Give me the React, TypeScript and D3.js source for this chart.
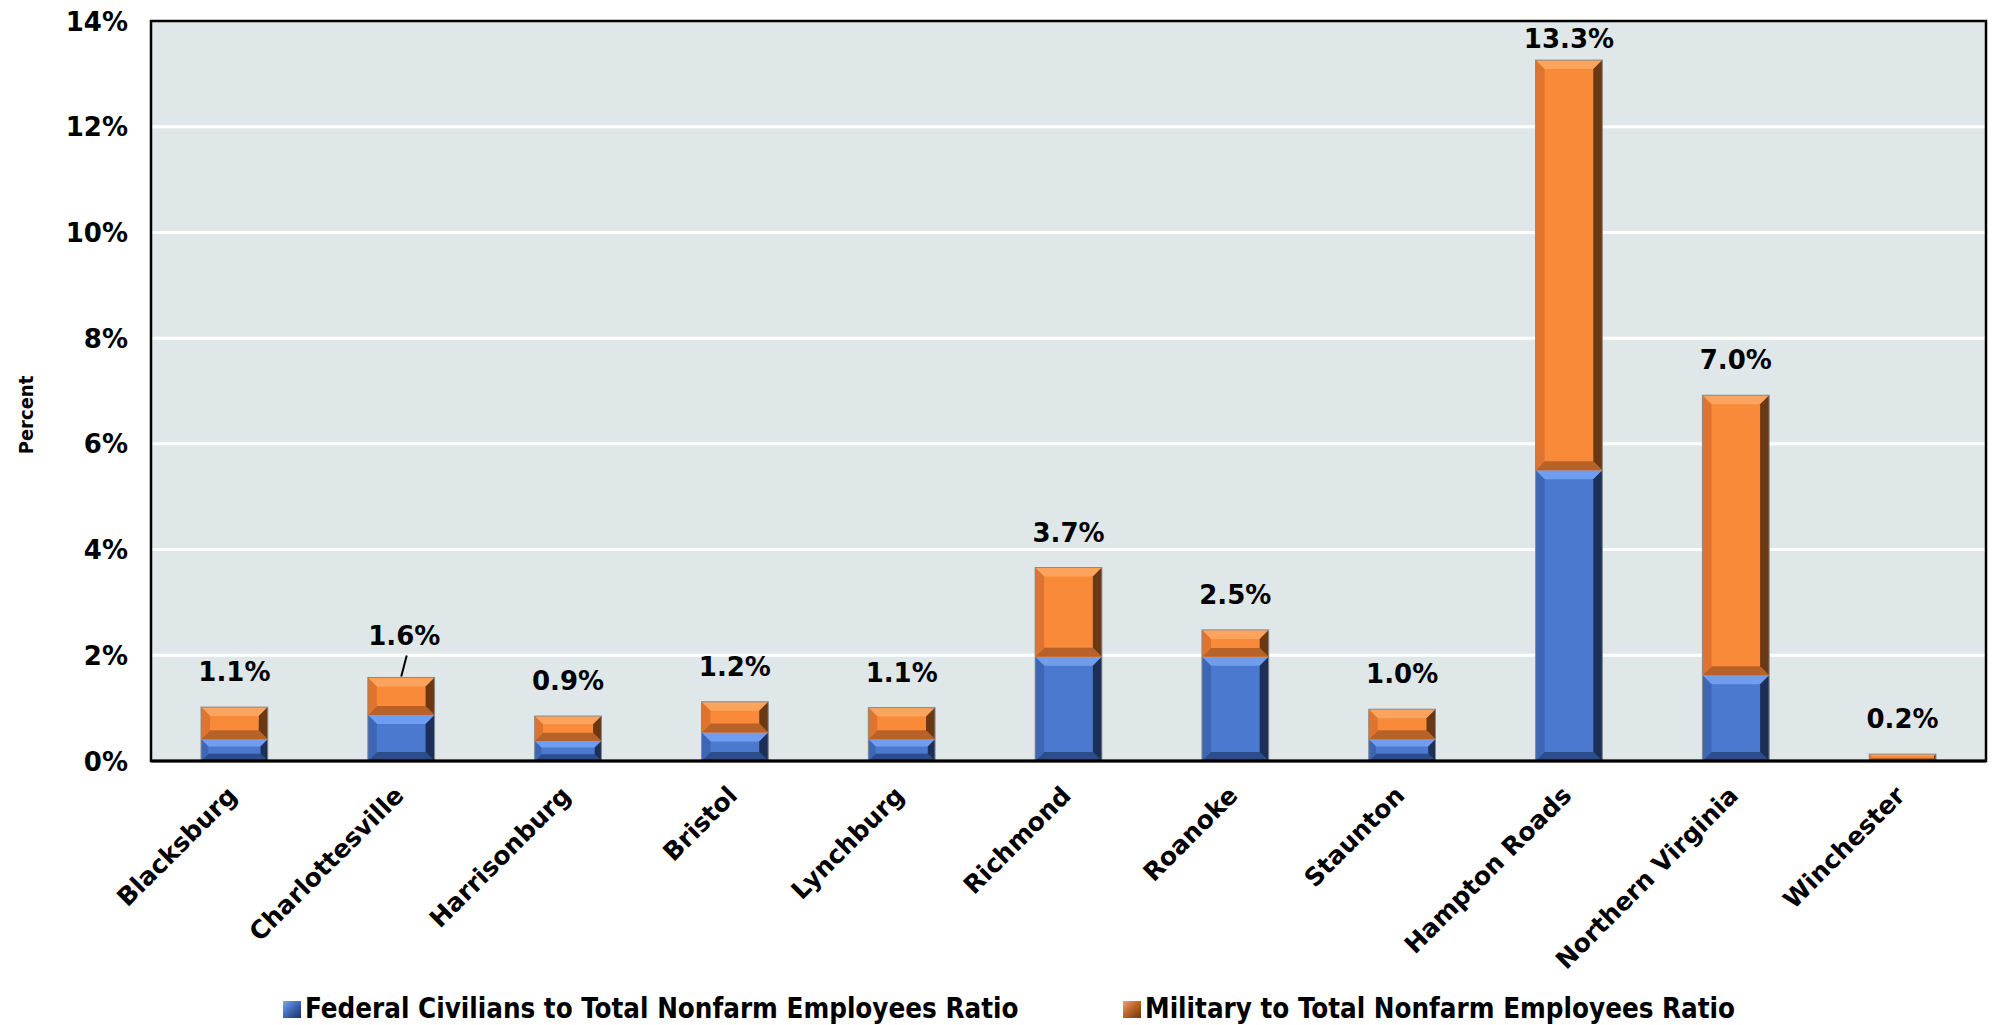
import React from "react";
import * as d3 from "d3";

const categories = [
  "Blacksburg",
  "Charlottesville",
  "Harrisonburg",
  "Bristol",
  "Lynchburg",
  "Richmond",
  "Roanoke",
  "Staunton",
  "Hampton Roads",
  "Northern Virginia",
  "Winchester",
];
const federalCivilians = [0.41, 0.87, 0.38, 0.54, 0.41, 1.97, 1.97, 0.41, 5.5, 1.62, 0.02];
const military = [0.61, 0.71, 0.47, 0.58, 0.6, 1.69, 0.51, 0.57, 7.76, 5.3, 0.11];
const totalLabels = ["1.1%", "1.6%", "0.9%", "1.2%", "1.1%", "3.7%", "2.5%", "1.0%", "13.3%", "7.0%", "0.2%"];
const yTicks = [0, 2, 4, 6, 8, 10, 12, 14];
const seriesNames = [
  "Federal Civilians to Total Nonfarm Employees Ratio",
  "Military to Total Nonfarm Employees Ratio",
];

const W = 1996;
const H = 1025;
const M = { left: 151, top: 21, right: 1986, bottom: 761 };
const FONT = "'DejaVu Sans', sans-serif";
const FONT_C = "'DejaVu Sans Condensed', 'DejaVu Sans', sans-serif";

const palettes = [
  { base: "#4a79cf", light: "#6f9df0", dark: "#2c4c8c", left: "#3d66b4", right: "#1c2f58" },
  { base: "#f98a3a", light: "#fca45e", dark: "#b8622a", left: "#de7430", right: "#6a3812" },
];

function BevelRect({ x, y, w, h, p }: { x: number; y: number; w: number; h: number; p: any }) {
  const b = Math.max(0, Math.min(9, h / 3, w / 4));
  const pts = (a: number[][]) => a.map((q) => q.join(",")).join(" ");
  return (
    <g>
      <rect x={x} y={y} width={w} height={h} fill={p.base} />
      {b > 0.5 && (
        <>
          <polygon points={pts([[x, y], [x + w, y], [x + w - b, y + b], [x + b, y + b]])} fill={p.light} />
          <polygon points={pts([[x, y + h], [x + w, y + h], [x + w - b, y + h - b], [x + b, y + h - b]])} fill={p.dark} />
          <polygon points={pts([[x, y], [x + b, y + b], [x + b, y + h - b], [x, y + h]])} fill={p.left} />
          <polygon points={pts([[x + w, y], [x + w - b, y + b], [x + w - b, y + h - b], [x + w, y + h]])} fill={p.right} />
        </>
      )}
    </g>
  );
}

export default function App() {
  const x = d3
    .scaleBand<string>()
    .domain(categories)
    .range([M.left, M.right])
    .paddingInner(0.6)
    .paddingOuter(0.3);
  const y = d3.scaleLinear().domain([0, 14]).range([M.bottom, M.top]);

  const rows = categories.map((c, i) => ({ c, f: federalCivilians[i], m: military[i] }));
  const stack = d3.stack<any>().keys(["f", "m"])(rows);

  const bw = x.bandwidth();

  return (
    <svg width={W} height={H} style={{ position: "absolute", left: 0, top: 0, background: "#fff" }}>
      <defs>
        <linearGradient id="lgBlue" x1="0" y1="0" x2="1" y2="1">
          <stop offset="0" stopColor="#7fa6ea" />
          <stop offset="0.5" stopColor="#3f67b3" />
          <stop offset="1" stopColor="#1d3160" />
        </linearGradient>
        <linearGradient id="lgOrange" x1="0" y1="0" x2="1" y2="1">
          <stop offset="0" stopColor="#f0a070" />
          <stop offset="0.5" stopColor="#b8622a" />
          <stop offset="1" stopColor="#6a3812" />
        </linearGradient>
      </defs>
      {/* plot background */}
      <rect x={M.left} y={M.top} width={M.right - M.left} height={M.bottom - M.top} fill="#e0e7e9" />
      {/* gridlines */}
      {yTicks
        .filter((t) => t > 0 && t < 14)
        .map((t) => (
          <line key={t} x1={M.left} x2={M.right} y1={y(t)} y2={y(t)} stroke="#ffffff" strokeWidth={3} />
        ))}
      {/* bars */}
      {stack.map((s, si) =>
        s.map((d, i) => {
          const y0 = y(d[0]);
          const y1 = y(d[1]);
          const h = y0 - y1;
          if (h <= 0) return null;
          const bx = x(categories[i]) as number;
          return <BevelRect key={si + "-" + i} x={bx} y={y1} w={bw} h={h} p={palettes[si]} />;
        })
      )}
      {/* bar outlines */}
      {rows.map((r, i) => {
        const bx = x(r.c) as number;
        const top = y(r.f + r.m);
        return (
          <rect key={"o" + i} x={bx} y={top} width={bw} height={M.bottom - top} fill="none" stroke="#8a8a8a" strokeWidth={1} />
        );
      })}
      {/* plot border */}
      <rect x={M.left} y={M.top} width={M.right - M.left} height={M.bottom - M.top} fill="none" stroke="#000" strokeWidth={2.5} />
      <line x1={M.left} x2={M.right} y1={M.bottom} y2={M.bottom} stroke="#000" strokeWidth={3} />
      {/* y ticks */}
      {yTicks.map((t) => (
        <text
          key={"yt" + t}
          x={128}
          y={y(t) + 9.5}
          textAnchor="end"
          fontFamily={FONT}
          fontWeight="bold"
          fontSize={26}
          fill="#000"
        >
          {t + "%"}
        </text>
      ))}
      {/* y axis title */}
      <text
        transform={`translate(33, 415) rotate(-90)`}
        textAnchor="middle"
        fontFamily={FONT_C}
        fontStretch="condensed"
        fontWeight="bold"
        fontSize={20}
        fill="#000"
      >
        Percent
      </text>
      {/* data labels */}
      {rows.map((r, i) => {
        const cx = (x(r.c) as number) + bw / 2;
        const top = y(r.f + r.m);
        const leader = i === 1;
        const base = Math.max(top - (leader ? 32 : 26), M.top + 27);
        return (
          <g key={"dl" + i}>
            <text x={cx + (leader ? 3 : 0)} y={base} textAnchor="middle" fontFamily={FONT} fontWeight="bold" fontSize={26} fill="#000">
              {totalLabels[i]}
            </text>
            {leader && <line x1={cx + 5.5} y1={base + 10} x2={cx} y2={top - 1} stroke="#000" strokeWidth={2} />}
          </g>
        );
      })}
      {/* x labels */}
      {categories.map((c) => {
        const cx = (x(c) as number) + bw / 2;
        return (
          <text
            key={"xl" + c}
            transform={`translate(${cx + 4}, 797) rotate(-45)`}
            textAnchor="end"
            fontFamily={FONT}
            fontWeight="bold"
            fontSize={25}
            fill="#000"
          >
            {c}
          </text>
        );
      })}
      {/* legend */}
      {seriesNames.map((n, i) => {
        const lx = i === 0 ? 283 : 1123;
        return (
          <g key={"lg" + i}>
            <rect x={lx} y={1001} width={18} height={17} fill={i === 0 ? "url(#lgBlue)" : "url(#lgOrange)"} />
            <text
              x={lx + 22}
              y={1018}
              fontFamily={FONT_C}
              fontStretch="condensed"
              fontWeight="bold"
              fontSize={27.5}
              fill="#000"
            >
              {n}
            </text>
          </g>
        );
      })}
    </svg>
  );
}
